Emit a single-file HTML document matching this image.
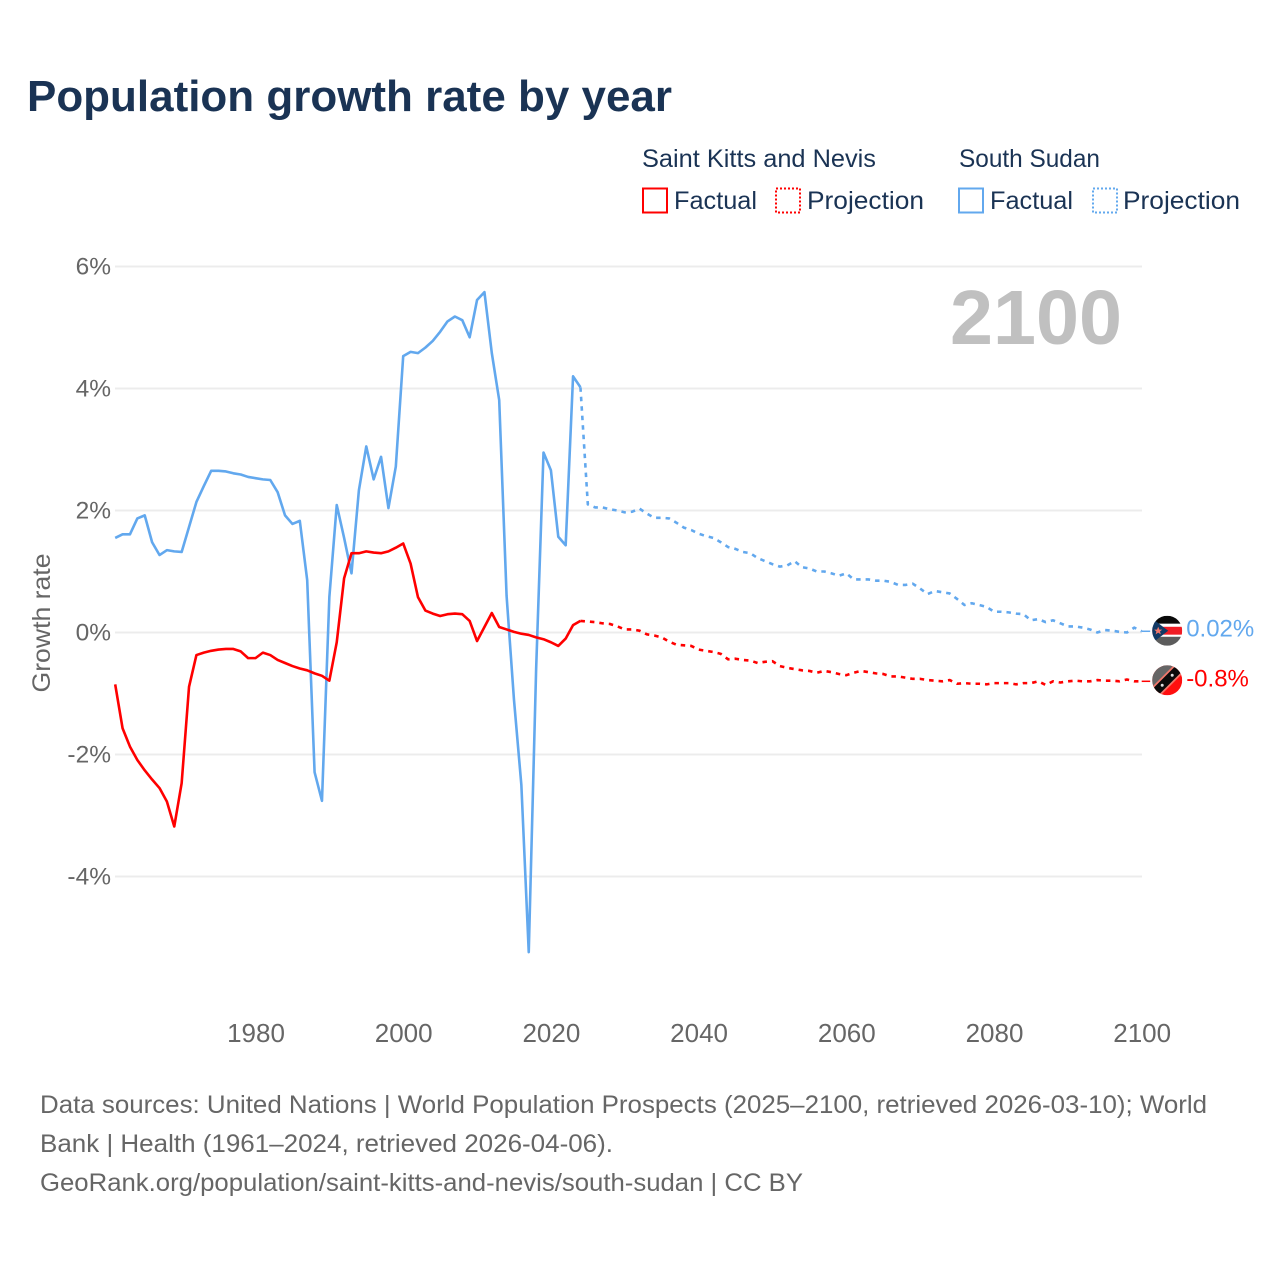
<!DOCTYPE html>
<html lang="en">
<head>
<meta charset="utf-8">
<title>Population growth rate by year</title>
<style>
html,body{margin:0;padding:0;background:#fff;}
svg{display:block;font-family:"Liberation Sans",sans-serif;}
</style>
</head>
<body>
<svg id="chart" xmlns="http://www.w3.org/2000/svg" width="1280" height="1280" viewBox="0 0 1280 1280">
  <defs>
    <clipPath id="flag-clip"><circle cx="0" cy="0" r="15"></circle></clipPath>
  </defs>
  <rect width="1280" height="1280" fill="#fff"></rect>
  <text x="27" y="111" font-size="44" font-weight="700" fill="#1a3354" textLength="645" lengthAdjust="spacingAndGlyphs">Population growth rate by year</text>

  <g font-size="25" fill="#1a3354">
    <text x="642" y="167" textLength="234" lengthAdjust="spacingAndGlyphs">Saint Kitts and Nevis</text>
    <text x="959" y="167" textLength="141" lengthAdjust="spacingAndGlyphs">South Sudan</text>
    <rect x="643" y="188.500" width="24" height="24" fill="none" stroke="#ff0000" stroke-width="2"></rect>
    <text x="674" y="209" textLength="83" lengthAdjust="spacingAndGlyphs">Factual</text>
    <rect x="776" y="188.500" width="24" height="24" fill="none" stroke="#ff0000" stroke-width="2" stroke-dasharray="2,2"></rect>
    <text x="807" y="209" textLength="117" lengthAdjust="spacingAndGlyphs">Projection</text>
    <rect x="959" y="188.500" width="24" height="24" fill="none" stroke="#62a8ee" stroke-width="2"></rect>
    <text x="990" y="209" textLength="83" lengthAdjust="spacingAndGlyphs">Factual</text>
    <rect x="1093" y="188.500" width="24" height="24" fill="none" stroke="#62a8ee" stroke-width="2" stroke-dasharray="2,2"></rect>
    <text x="1123" y="209" textLength="117" lengthAdjust="spacingAndGlyphs">Projection</text>
  </g>

  <g id="grid"></g>
  <text x="1122" y="344" text-anchor="end" font-size="77" font-weight="700" fill="#c0c0c0" textLength="172" lengthAdjust="spacingAndGlyphs">2100</text>
  <g id="y-ticks"></g>
  <g id="x-ticks"></g>
  <text transform="translate(50,623) rotate(-90)" text-anchor="middle" font-size="25" fill="#666" textLength="139" lengthAdjust="spacingAndGlyphs">Growth rate</text>
  <g id="series"></g>

  <g id="flag-ss">
    <g clip-path="url(#flag-clip)">
      <rect x="-15" y="-15" width="30" height="8" fill="#0a0a0a"></rect>
      <rect x="-15" y="-7" width="30" height="3" fill="#fff"></rect>
      <rect x="-15" y="-4" width="30" height="8" fill="#f01c24"></rect>
      <rect x="-15" y="4" width="30" height="2" fill="#fff"></rect>
      <rect x="-15" y="6" width="30" height="9" fill="#5c5c5c"></rect>
      <polygon points="-16,-13 1,0 -16,13" fill="#123a66"></polygon>
      <polygon points="-9,-4 -7.800,-1.200 -5,-1.200 -7.200,0.700 -6.400,3.600 -9,1.900 -11.600,3.600 -10.800,0.700 -13,-1.200 -10.200,-1.200" fill="#f2786c"></polygon>
    </g>
  </g>
  <g id="flag-skn">
    <g clip-path="url(#flag-clip)">
      <rect x="-15" y="-15" width="30" height="30" fill="#ff0f0f"></rect>
      <polygon points="-15,-15 15,-15 -15,15" fill="#666"></polygon>
      <line x1="-17" y1="17" x2="17" y2="-17" stroke="#f2786c" stroke-width="12"></line>
      <line x1="-17" y1="17" x2="17" y2="-17" stroke="#0a0a0a" stroke-width="8.500"></line>
      <circle cx="-5" cy="5" r="1.500" fill="#ddd"></circle>
      <circle cx="5" cy="-5" r="1.500" fill="#ddd"></circle>
    </g>
  </g>
  <g id="value-labels"></g>

  <g font-size="25" fill="#666">
    <text x="40" y="1113" textLength="1167" lengthAdjust="spacingAndGlyphs">Data sources: United Nations | World Population Prospects (2025–2100, retrieved 2026-03-10); World</text>
    <text x="40" y="1152" textLength="573" lengthAdjust="spacingAndGlyphs">Bank | Health (1961–2024, retrieved 2026-04-06).</text>
    <text x="40" y="1191" textLength="763" lengthAdjust="spacingAndGlyphs">GeoRank.org/population/saint-kitts-and-nevis/south-sudan | CC BY</text>
  </g>
</svg>
<script>
var factualStartYear = 1961;
var projectionStartYear = 2025;
var yTickValues = [6, 4, 2, 0, -2, -4];
var xTickValues = [1980, 2000, 2020, 2040, 2060, 2080, 2100];
var sknFactual = [-0.85,-1.57,-1.87,-2.09,-2.26,-2.41,-2.55,-2.77,-3.18,-2.47,-0.89,-0.37,-0.33,-0.30,-0.28,-0.27,-0.27,-0.31,-0.42,-0.42,-0.33,-0.37,-0.45,-0.50,-0.55,-0.59,-0.62,-0.67,-0.71,-0.79,-0.16,0.89,1.30,1.30,1.33,1.31,1.30,1.33,1.39,1.46,1.13,0.58,0.36,0.31,0.27,0.30,0.31,0.30,0.19,-0.14,0.09,0.32,0.09,0.05,0.01,-0.02,-0.04,-0.08,-0.11,-0.16,-0.22,-0.10,0.12,0.19];
var sknProjection = [0.18,0.17,0.15,0.14,0.10,0.05,0.05,0.03,-0.03,-0.05,-0.08,-0.15,-0.20,-0.21,-0.22,-0.28,-0.30,-0.32,-0.35,-0.44,-0.43,-0.45,-0.46,-0.50,-0.48,-0.47,-0.55,-0.58,-0.60,-0.62,-0.63,-0.66,-0.63,-0.65,-0.68,-0.70,-0.66,-0.63,-0.65,-0.67,-0.68,-0.72,-0.72,-0.74,-0.76,-0.76,-0.78,-0.79,-0.80,-0.78,-0.84,-0.83,-0.84,-0.84,-0.85,-0.83,-0.83,-0.83,-0.85,-0.83,-0.83,-0.80,-0.86,-0.80,-0.82,-0.80,-0.79,-0.80,-0.80,-0.78,-0.79,-0.79,-0.80,-0.77,-0.80,-0.80];
var ssFactual = [1.55,1.61,1.61,1.87,1.92,1.48,1.27,1.35,1.33,1.32,1.73,2.14,2.40,2.65,2.65,2.64,2.61,2.59,2.55,2.53,2.51,2.50,2.30,1.92,1.78,1.83,0.86,-2.29,-2.76,0.58,2.09,1.55,0.97,2.33,3.05,2.51,2.88,2.04,2.72,4.53,4.60,4.58,4.67,4.78,4.93,5.10,5.18,5.12,4.84,5.45,5.58,4.58,3.81,0.60,-1.10,-2.50,-5.24,-0.60,2.95,2.66,1.57,1.43,4.20,4.02];
var ssProjection = [2.10,2.05,2.05,2.02,2.00,1.97,1.98,2.03,1.95,1.88,1.88,1.87,1.80,1.72,1.68,1.62,1.58,1.55,1.48,1.40,1.37,1.32,1.30,1.22,1.17,1.12,1.08,1.10,1.17,1.07,1.05,1.00,1.00,0.97,0.93,0.97,0.87,0.87,0.87,0.85,0.85,0.83,0.78,0.78,0.80,0.72,0.63,0.68,0.66,0.64,0.55,0.45,0.48,0.45,0.42,0.34,0.34,0.33,0.31,0.30,0.20,0.22,0.17,0.20,0.15,0.10,0.10,0.08,0.05,0.00,0.04,0.03,0.01,0.00,0.08,0.02];
var sknEndLabel = "-0.8%";
var ssEndLabel = "0.02%";

var SVG_NS = "http://www.w3.org/2000/svg";
var RED = "#ff0000";
var BLUE = "#62a8ee";

function xScale(year) { return 255.5 + (year - 1980) * 7.385; }
function yScale(value) { return 632.5 - value * 61; }

function make(parent, tag, attrs, text) {
  var node = document.createElementNS(SVG_NS, tag);
  Object.keys(attrs).forEach(function (k) { node.setAttribute(k, attrs[k]); });
  if (text !== undefined) { node.textContent = text; }
  parent.appendChild(node);
  return node;
}

function pointsFor(values, startYear) {
  return values.map(function (v, i) {
    return xScale(startYear + i).toFixed(2) + "," + yScale(v).toFixed(2);
  });
}

var gridGroup = document.getElementById("grid");
var yTickGroup = document.getElementById("y-ticks");
yTickValues.forEach(function (v) {
  var line = make(gridGroup, "line", { x1: 115, x2: 1142, y1: yScale(v), y2: yScale(v), stroke: "#ececec", "stroke-width": 2 });
  
  
  var label = make(yTickGroup, "text", { x: 111, y: yScale(v) + 8, "text-anchor": "end", "font-size": 24.5, fill: "#666" }, v + "%");
  
  
});

var xTickGroup = document.getElementById("x-ticks");
xTickValues.forEach(function (year) {
  var label = make(xTickGroup, "text", { x: xScale(year) + 0.5, y: 1042, "text-anchor": "middle", "font-size": 26, fill: "#666" }, String(year));
  
  
});

var seriesGroup = document.getElementById("series");

function drawLine(points, color, dashed) {
  var attrs = { points: points.join(" "), fill: "none", stroke: color, "stroke-width": 2.6, "stroke-linejoin": "round" };
  if (dashed) { attrs["stroke-dasharray"] = "4.5,5"; }
  return make(seriesGroup, "polyline", attrs);
}

var ssFactualPoints = pointsFor(ssFactual, factualStartYear);
var ssFactualLine = drawLine(ssFactualPoints, BLUE, false);



var ssProjectionPoints = [ssFactualPoints[ssFactualPoints.length - 1]].concat(pointsFor(ssProjection, projectionStartYear));
var ssProjectionLine = drawLine(ssProjectionPoints, BLUE, true);



var sknFactualPoints = pointsFor(sknFactual, factualStartYear);
var sknFactualLine = drawLine(sknFactualPoints, RED, false);



var sknProjectionPoints = [sknFactualPoints[sknFactualPoints.length - 1]].concat(pointsFor(sknProjection, projectionStartYear));
var sknProjectionLine = drawLine(sknProjectionPoints, RED, true);



var lastYear = projectionStartYear + ssProjection.length - 1;
var ssEndY = yScale(ssProjection[ssProjection.length - 1]);
var sknEndY = yScale(sknProjection[sknProjection.length - 1]);
var markerX = xScale(lastYear) + 25.5;

var ssConnector = make(seriesGroup, "line", { x1: xScale(lastYear), x2: markerX - 17, y1: ssEndY, y2: ssEndY, stroke: BLUE, "stroke-width": 1.500 });



var sknConnector = make(seriesGroup, "line", { x1: xScale(lastYear), x2: markerX - 17, y1: sknEndY, y2: sknEndY, stroke: RED, "stroke-width": 1.500 });



document.getElementById("flag-ss").setAttribute("transform", "translate(" + markerX + "," + (ssEndY - 0.5) + ")");
document.getElementById("flag-skn").setAttribute("transform", "translate(" + markerX + "," + (sknEndY - 1) + ")");

var labelGroup = document.getElementById("value-labels");
var ssLabel = make(labelGroup, "text", { x: markerX + 19, y: ssEndY + 5, "font-size": 24, fill: BLUE }, ssEndLabel);



var sknLabel = make(labelGroup, "text", { x: markerX + 19, y: sknEndY + 5, "font-size": 24, fill: RED }, sknEndLabel);


</script>
</body>
</html>
